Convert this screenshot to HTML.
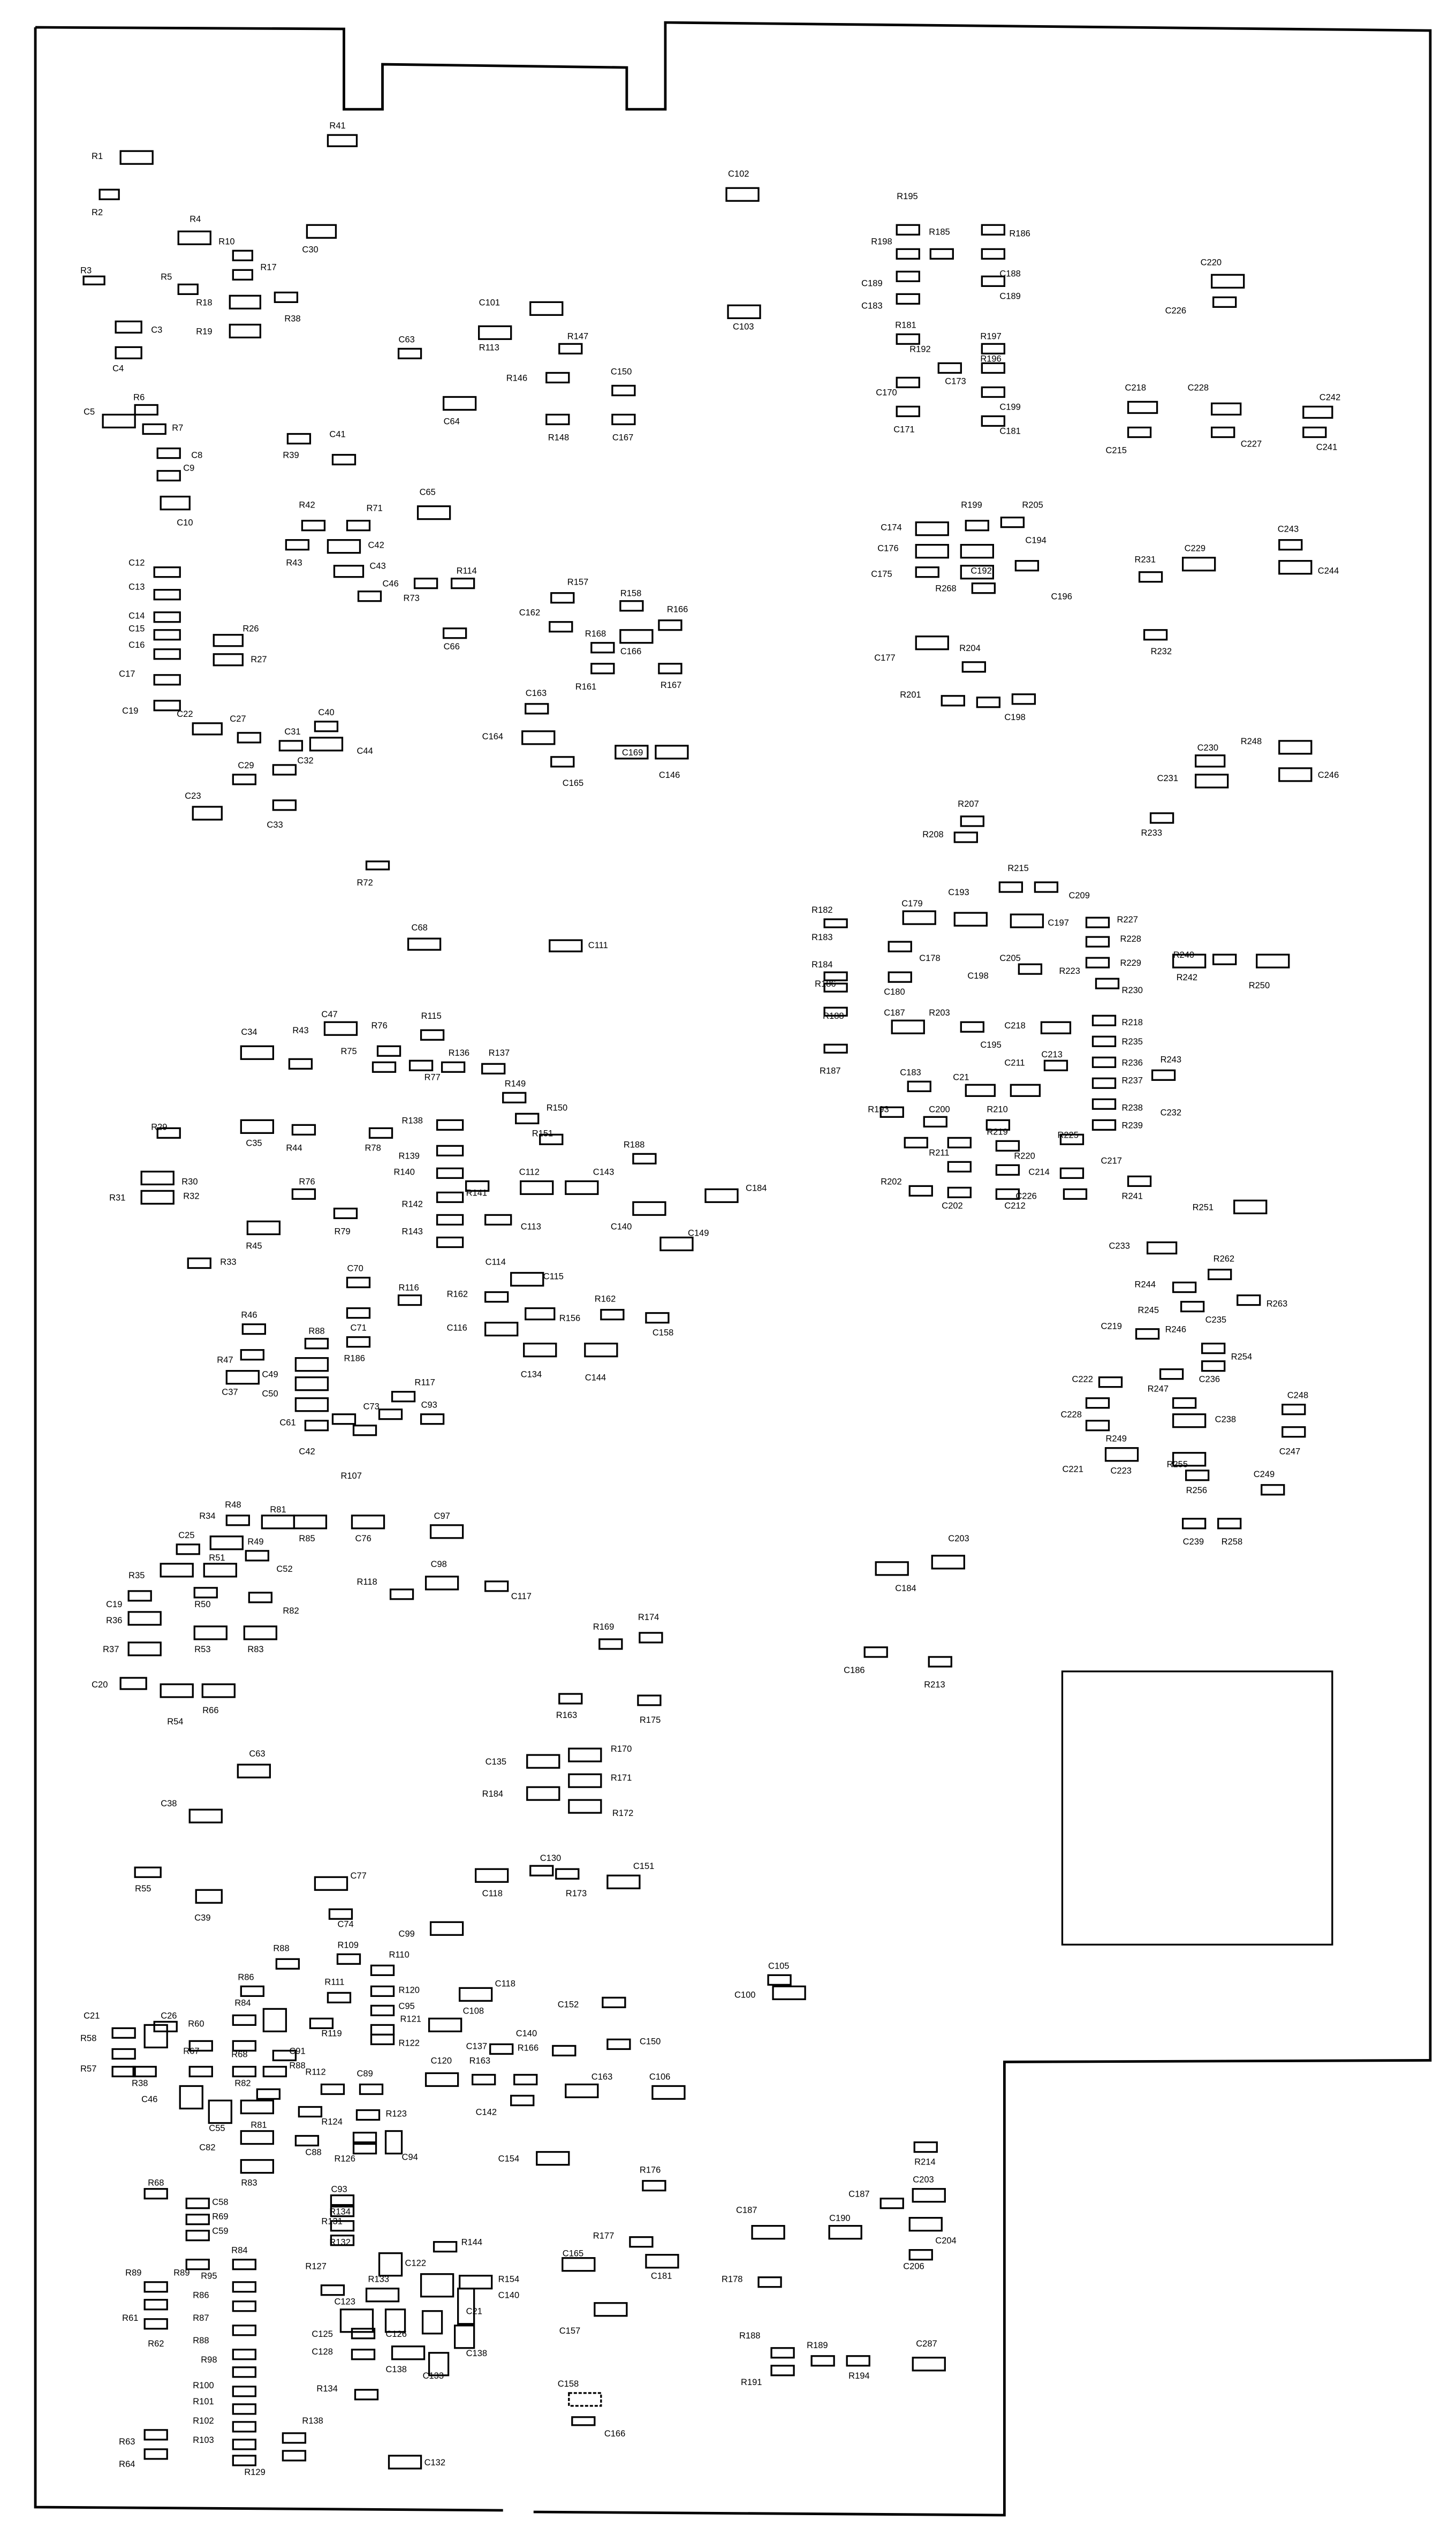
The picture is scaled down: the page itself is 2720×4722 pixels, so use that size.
<!DOCTYPE html>
<html><head><meta charset="utf-8"><style>
html,body{margin:0;padding:0;background:#fff}
svg{display:block}
rect{fill:none;stroke:#000;stroke-width:1.1}
text{font-family:"Liberation Sans",sans-serif;font-size:5.5px;fill:#000}
.o{fill:none;stroke:#000;stroke-width:1.6}
</style></head><body>
<svg width="2720" height="4722" viewBox="0 0 906 1573" preserveAspectRatio="none" xmlns="http://www.w3.org/2000/svg">
<path class="o" d="M22,17 L214,18 L214,68 L238,68 L238,40 L390,42 L390,68 L414,68 L414,14 L890,19 L890,1282 L625,1283 L625,1565 L332,1563 M313,1562 L22,1560 L22,17"/>
<rect x="661" y="1040" width="168" height="170"/>
<g>
<text x="57" y="99">R1</text><rect x="75" y="94" width="20" height="8"/>
<text x="205" y="80">R41</text><rect x="204" y="84" width="18" height="7"/>
<text x="57" y="134">R2</text><rect x="62" y="118" width="12" height="6"/>
<text x="118" y="138">R4</text><rect x="111" y="144" width="20" height="8"/>
<rect x="191" y="140" width="18" height="8"/><text x="188" y="157">C30</text>
<text x="136" y="152">R10</text><rect x="145" y="156" width="12" height="6"/>
<text x="50" y="170">R3</text><rect x="52" y="172" width="13" height="5"/>
<text x="100" y="174">R5</text><rect x="111" y="177" width="12" height="6"/>
<text x="162" y="168">R17</text><rect x="145" y="168" width="12" height="6"/>
<text x="122" y="190">R18</text><rect x="143" y="184" width="19" height="8"/><rect x="171" y="182" width="14" height="6"/><text x="177" y="200">R38</text>
<text x="122" y="208">R19</text><rect x="143" y="202" width="19" height="8"/>
<rect x="72" y="200" width="16" height="7"/><text x="94" y="207">C3</text>
<rect x="72" y="216" width="16" height="7"/><text x="70" y="231">C4</text>
<text x="52" y="258">C5</text><rect x="64" y="258" width="20" height="8"/>
<text x="83" y="249">R6</text><rect x="84" y="252" width="14" height="6"/>
<text x="107" y="268">R7</text><rect x="89" y="264" width="14" height="6"/>
<rect x="98" y="279" width="14" height="6"/><text x="119" y="285">C8</text>
<rect x="98" y="293" width="14" height="6"/><text x="114" y="293">C9</text>
<rect x="100" y="309" width="18" height="8"/><text x="110" y="327">C10</text>
<text x="298" y="190">C101</text><rect x="330" y="188" width="20" height="8"/>
<rect x="298" y="203" width="20" height="8"/><text x="298" y="218">R113</text>
<text x="353" y="211">R147</text><rect x="348" y="214" width="14" height="6"/>
<rect x="248" y="217" width="14" height="6"/><text x="248" y="213">C63</text>
<text x="315" y="237">R146</text><rect x="340" y="232" width="14" height="6"/>
<text x="380" y="233">C150</text><rect x="381" y="240" width="14" height="6"/>
<rect x="276" y="247" width="20" height="8"/><text x="276" y="264">C64</text>
<rect x="340" y="258" width="14" height="6"/><text x="341" y="274">R148</text>
<rect x="381" y="258" width="14" height="6"/><text x="381" y="274">C167</text>
<rect x="179" y="270" width="14" height="6"/><text x="205" y="272">C41</text><text x="176" y="285">R39</text>
<rect x="207" y="283" width="14" height="6"/>
<text x="453" y="110">C102</text><rect x="452" y="117" width="20" height="8"/>
<rect x="453" y="190" width="20" height="8"/><text x="456" y="205">C103</text>
<rect x="188" y="324" width="14" height="6"/><text x="186" y="316">R42</text><text x="228" y="318">R71</text>
<rect x="216" y="324" width="14" height="6"/><rect x="260" y="315" width="20" height="8"/><text x="261" y="308">C65</text>
<rect x="178" y="336" width="14" height="6"/><text x="178" y="352">R43</text>
<rect x="204" y="336" width="20" height="8"/><text x="229" y="341">C42</text>
<rect x="208" y="352" width="18" height="7"/><text x="230" y="354">C43</text>
<rect x="223" y="368" width="14" height="6"/><text x="238" y="365">C46</text><rect x="258" y="360" width="14" height="6"/><text x="251" y="374">R73</text>
<rect x="281" y="360" width="14" height="6"/><text x="284" y="357">R114</text>
<rect x="276" y="391" width="14" height="6"/><text x="276" y="404">C66</text>
<text x="80" y="352">C12</text><rect x="96" y="353" width="16" height="6"/>
<text x="80" y="367">C13</text><rect x="96" y="367" width="16" height="6"/>
<text x="80" y="385">C14</text><rect x="96" y="381" width="16" height="6"/>
<text x="80" y="393">C15</text><rect x="96" y="392" width="16" height="6"/>
<text x="80" y="403">C16</text><rect x="96" y="404" width="16" height="6"/>
<text x="74" y="421">C17</text><rect x="96" y="420" width="16" height="6"/>
<text x="76" y="444">C19</text><rect x="96" y="436" width="16" height="6"/>
<rect x="133" y="395" width="18" height="7"/><text x="151" y="393">R26</text>
<rect x="133" y="407" width="18" height="7"/><text x="156" y="412">R27</text>
<text x="110" y="446">C22</text><rect x="120" y="450" width="18" height="7"/>
<text x="143" y="449">C27</text><rect x="148" y="456" width="14" height="6"/>
<text x="177" y="457">C31</text><rect x="174" y="461" width="14" height="6"/><text x="198" y="445">C40</text><rect x="196" y="449" width="14" height="6"/>
<rect x="193" y="459" width="20" height="8"/><text x="222" y="469">C44</text>
<text x="148" y="478">C29</text><rect x="145" y="482" width="14" height="6"/><text x="185" y="475">C32</text><rect x="170" y="476" width="14" height="6"/>
<text x="115" y="497">C23</text><rect x="120" y="502" width="18" height="8"/>
<rect x="170" y="498" width="14" height="6"/><text x="166" y="515">C33</text>
<text x="353" y="364">R157</text><rect x="343" y="369" width="14" height="6"/><text x="386" y="371">R158</text><rect x="386" y="374" width="14" height="6"/>
<text x="415" y="381">R166</text><rect x="410" y="386" width="14" height="6"/>
<text x="323" y="383">C162</text><rect x="342" y="387" width="14" height="6"/>
<text x="364" y="396">R168</text><rect x="386" y="392" width="20" height="8"/><rect x="368" y="400" width="14" height="6"/><text x="386" y="407">C166</text>
<rect x="368" y="413" width="14" height="6"/><text x="358" y="429">R161</text>
<rect x="410" y="413" width="14" height="6"/><text x="411" y="428">R167</text>
<text x="327" y="433">C163</text><rect x="327" y="438" width="14" height="6"/>
<text x="300" y="460">C164</text><rect x="325" y="455" width="20" height="8"/>
<rect x="343" y="471" width="14" height="6"/><text x="350" y="489">C165</text>
<rect x="383" y="464" width="20" height="8"/><rect x="408" y="464" width="20" height="8"/><text x="387" y="470">C169</text><text x="410" y="484">C146</text>
<rect x="228" y="536" width="14" height="5"/><text x="222" y="551">R72</text>
<rect x="254" y="584" width="20" height="7"/><text x="256" y="579">C68</text>
<rect x="342" y="585" width="20" height="7"/><text x="366" y="590">C111</text>
<text x="558" y="124">R195</text>
<rect x="558" y="140" width="14" height="6"/><text x="542" y="152">R198</text><text x="578" y="146">R185</text>
<rect x="611" y="140" width="14" height="6"/><text x="628" y="147">R186</text>
<rect x="558" y="155" width="14" height="6"/><rect x="579" y="155" width="14" height="6"/><rect x="611" y="155" width="14" height="6"/>
<text x="536" y="178">C189</text><rect x="558" y="169" width="14" height="6"/><text x="622" y="172">C188</text>
<rect x="558" y="183" width="14" height="6"/><text x="536" y="192">C183</text><rect x="611" y="172" width="14" height="6"/><text x="622" y="186">C189</text>
<text x="557" y="204">R181</text><rect x="558" y="208" width="14" height="6"/><text x="610" y="211">R197</text><rect x="611" y="214" width="14" height="6"/>
<text x="566" y="219">R192</text><rect x="584" y="226" width="14" height="6"/><text x="610" y="225">R196</text><rect x="611" y="226" width="14" height="6"/>
<rect x="558" y="235" width="14" height="6"/><text x="545" y="246">C170</text><text x="588" y="239">C173</text>
<rect x="611" y="241" width="14" height="6"/><text x="622" y="255">C199</text>
<rect x="558" y="253" width="14" height="6"/><text x="556" y="269">C171</text><rect x="611" y="259" width="14" height="6"/><text x="622" y="270">C181</text>
<text x="747" y="165">C220</text><rect x="754" y="171" width="20" height="8"/><rect x="755" y="185" width="14" height="6"/><text x="725" y="195">C226</text>
<text x="700" y="243">C218</text><rect x="702" y="250" width="18" height="7"/><text x="739" y="243">C228</text><rect x="754" y="251" width="18" height="7"/>
<rect x="702" y="266" width="14" height="6"/><text x="688" y="282">C215</text><rect x="754" y="266" width="14" height="6"/><text x="772" y="278">C227</text>
<text x="821" y="249">C242</text><rect x="811" y="253" width="18" height="7"/><rect x="811" y="266" width="14" height="6"/><text x="819" y="280">C241</text>
<text x="548" y="330">C174</text><rect x="570" y="325" width="20" height="8"/><text x="598" y="316">R199</text><rect x="601" y="324" width="14" height="6"/><text x="636" y="316">R205</text><rect x="623" y="322" width="14" height="6"/>
<text x="546" y="343">C176</text><rect x="570" y="339" width="20" height="8"/><rect x="598" y="339" width="20" height="8"/><text x="638" y="338">C194</text>
<text x="542" y="359">C175</text><rect x="570" y="353" width="14" height="6"/><rect x="598" y="352" width="20" height="8"/><text x="604" y="357">C192</text><rect x="632" y="349" width="14" height="6"/>
<text x="582" y="368">R268</text><rect x="605" y="363" width="14" height="6"/><text x="654" y="373">C196</text>
<text x="706" y="350">R231</text><rect x="709" y="356" width="14" height="6"/><text x="737" y="343">C229</text><rect x="736" y="347" width="20" height="8"/>
<text x="795" y="331">C243</text><rect x="796" y="336" width="14" height="6"/><rect x="796" y="349" width="20" height="8"/><text x="820" y="357">C244</text>
<rect x="712" y="392" width="14" height="6"/><text x="716" y="407">R232</text>
<rect x="570" y="396" width="20" height="8"/><text x="544" y="411">C177</text><text x="597" y="405">R204</text><rect x="599" y="412" width="14" height="6"/>
<text x="560" y="434">R201</text><rect x="586" y="433" width="14" height="6"/><rect x="608" y="434" width="14" height="6"/><rect x="630" y="432" width="14" height="6"/><text x="625" y="448">C198</text>
<text x="745" y="467">C230</text><rect x="744" y="470" width="18" height="7"/><text x="772" y="463">R248</text><rect x="796" y="461" width="20" height="8"/>
<rect x="744" y="482" width="20" height="8"/><text x="720" y="486">C231</text><rect x="796" y="478" width="20" height="8"/><text x="820" y="484">C246</text>
<rect x="716" y="506" width="14" height="6"/><text x="710" y="520">R233</text>
<text x="596" y="502">R207</text><rect x="598" y="508" width="14" height="6"/><text x="574" y="521">R208</text><rect x="594" y="518" width="14" height="6"/>
<text x="627" y="542">R215</text><rect x="622" y="549" width="14" height="6"/><rect x="644" y="549" width="14" height="6"/><text x="665" y="559">C209</text>
<text x="590" y="557">C193</text><text x="561" y="564">C179</text><rect x="562" y="567" width="20" height="8"/><rect x="594" y="568" width="20" height="8"/>
<rect x="629" y="569" width="20" height="8"/><text x="652" y="576">C197</text><rect x="676" y="571" width="14" height="6"/><text x="695" y="574">R227</text>
<text x="505" y="568">R182</text><rect x="513" y="572" width="14" height="5"/><text x="505" y="585">R183</text>
<rect x="553" y="586" width="14" height="6"/><text x="572" y="598">C178</text><rect x="676" y="583" width="14" height="6"/><text x="697" y="586">R228</text>
<text x="505" y="602">R184</text><rect x="513" y="605" width="14" height="5"/><text x="622" y="598">C205</text><rect x="634" y="600" width="14" height="6"/><text x="659" y="606">R223</text><rect x="676" y="596" width="14" height="6"/><text x="697" y="601">R229</text>
<text x="507" y="614">R186</text><rect x="513" y="612" width="14" height="5"/><rect x="553" y="605" width="14" height="6"/><text x="550" y="619">C180</text><text x="602" y="609">C198</text><rect x="682" y="609" width="14" height="6"/><text x="698" y="618">R230</text>
<text x="730" y="596">R240</text><rect x="730" y="594" width="20" height="8"/><rect x="755" y="594" width="14" height="6"/><text x="732" y="610">R242</text><rect x="782" y="594" width="20" height="8"/><text x="777" y="615">R250</text>
<text x="512" y="634">R188</text><rect x="513" y="627" width="14" height="5"/><text x="550" y="632">C187</text><rect x="555" y="635" width="20" height="8"/><text x="578" y="632">R203</text><rect x="598" y="636" width="14" height="6"/>
<rect x="648" y="636" width="18" height="7"/><text x="625" y="640">C218</text><rect x="680" y="632" width="14" height="6"/><text x="698" y="638">R218</text>
<text x="610" y="652">C195</text><rect x="680" y="645" width="14" height="6"/><text x="698" y="650">R235</text>
<rect x="513" y="650" width="14" height="5"/><text x="510" y="668">R187</text><text x="648" y="658">C213</text><rect x="650" y="660" width="14" height="6"/>
<text x="625" y="663">C211</text><rect x="680" y="658" width="14" height="6"/><text x="698" y="663">R236</text><text x="722" y="661">R243</text>
<text x="560" y="669">C183</text><rect x="565" y="673" width="14" height="6"/><text x="593" y="672">C21</text><rect x="601" y="675" width="18" height="7"/><rect x="629" y="675" width="18" height="7"/>
<rect x="680" y="671" width="14" height="6"/><text x="698" y="674">R237</text><rect x="717" y="666" width="14" height="6"/>
<text x="540" y="692">R193</text><rect x="548" y="689" width="14" height="6"/><text x="578" y="692">C200</text><rect x="575" y="695" width="14" height="6"/>
<text x="614" y="692">R210</text><rect x="614" y="697" width="14" height="6"/><rect x="680" y="684" width="14" height="6"/><text x="698" y="691">R238</text><text x="722" y="694">C232</text>
<text x="578" y="719">R211</text><rect x="563" y="708" width="14" height="6"/><text x="614" y="706">R219</text><text x="631" y="721">R220</text>
<rect x="590" y="708" width="14" height="6"/><rect x="620" y="710" width="14" height="6"/><rect x="660" y="706" width="14" height="6"/><text x="658" y="708">R225</text><rect x="680" y="697" width="14" height="6"/><text x="698" y="702">R239</text>
<text x="685" y="724">C217</text><rect x="590" y="723" width="14" height="6"/><rect x="620" y="725" width="14" height="6"/><text x="640" y="731">C214</text><rect x="660" y="727" width="14" height="6"/>
<text x="548" y="737">R202</text><rect x="566" y="738" width="14" height="6"/><rect x="590" y="739" width="14" height="6"/><rect x="620" y="740" width="14" height="6"/><text x="632" y="746">C226</text><rect x="662" y="740" width="14" height="6"/><rect x="702" y="732" width="14" height="6"/><text x="698" y="746">R241</text>
<text x="586" y="752">C202</text><text x="625" y="752">C212</text>
<text x="742" y="753">R251</text><rect x="768" y="747" width="20" height="8"/>
<text x="690" y="777">C233</text><rect x="714" y="773" width="18" height="7"/><text x="755" y="785">R262</text><rect x="752" y="790" width="14" height="6"/>
<text x="706" y="801">R244</text><rect x="730" y="798" width="14" height="6"/><text x="708" y="817">R245</text><rect x="735" y="810" width="14" height="6"/><text x="750" y="823">C235</text><rect x="770" y="806" width="14" height="6"/><text x="788" y="813">R263</text>
<text x="685" y="827">C219</text><rect x="707" y="827" width="14" height="6"/><text x="725" y="829">R246</text><rect x="748" y="836" width="14" height="6"/><text x="746" y="860">C236</text>
<rect x="748" y="847" width="14" height="6"/><text x="766" y="846">R254</text>
<text x="667" y="860">C222</text><rect x="684" y="857" width="14" height="6"/><text x="714" y="866">R247</text><rect x="722" y="852" width="14" height="6"/>
<rect x="676" y="870" width="14" height="6"/><text x="660" y="882">C228</text><rect x="730" y="870" width="14" height="6"/><rect x="730" y="880" width="20" height="8"/><text x="756" y="885">C238</text>
<text x="801" y="870">C248</text><rect x="798" y="874" width="14" height="6"/><rect x="798" y="888" width="14" height="6"/><text x="796" y="905">C247</text>
<rect x="676" y="884" width="14" height="6"/><text x="688" y="897">R249</text><rect x="688" y="901" width="20" height="8"/><text x="661" y="916">C221</text><text x="691" y="917">C223</text>
<rect x="730" y="904" width="20" height="8"/><text x="726" y="913">R255</text><rect x="738" y="915" width="14" height="6"/><text x="780" y="919">C249</text><rect x="785" y="924" width="14" height="6"/>
<text x="738" y="929">R256</text><rect x="736" y="945" width="14" height="6"/><rect x="758" y="945" width="14" height="6"/><text x="736" y="961">C239</text><text x="760" y="961">R258</text>
<text x="590" y="959">C203</text><rect x="580" y="968" width="20" height="8"/><rect x="545" y="972" width="20" height="8"/><text x="557" y="990">C184</text>
<rect x="538" y="1025" width="14" height="6"/><text x="525" y="1041">C186</text><rect x="578" y="1031" width="14" height="6"/><text x="575" y="1050">R213</text>
<text x="150" y="644">C34</text><rect x="150" y="651" width="20" height="8"/><text x="182" y="643">R43</text><rect x="180" y="659" width="14" height="6"/>
<text x="200" y="633">C47</text><rect x="202" y="636" width="20" height="8"/><text x="231" y="640">R76</text><text x="262" y="634">R115</text><rect x="262" y="641" width="14" height="6"/>
<text x="212" y="656">R75</text><rect x="235" y="651" width="14" height="6"/><text x="279" y="657">R136</text><text x="304" y="657">R137</text>
<rect x="232" y="661" width="14" height="6"/><rect x="255" y="660" width="14" height="6"/><rect x="275" y="661" width="14" height="6"/><rect x="300" y="662" width="14" height="6"/><text x="264" y="672">R77</text>
<text x="314" y="676">R149</text><rect x="313" y="680" width="14" height="6"/><text x="340" y="691">R150</text>
<text x="94" y="703">R29</text><rect x="98" y="702" width="14" height="6"/><rect x="150" y="697" width="20" height="8"/><text x="153" y="713">C35</text><rect x="182" y="700" width="14" height="6"/><text x="178" y="716">R44</text>
<text x="250" y="699">R138</text><rect x="272" y="697" width="16" height="6"/><rect x="230" y="702" width="14" height="6"/><text x="227" y="716">R78</text><rect x="321" y="693" width="14" height="6"/>
<rect x="336" y="706" width="14" height="6"/><text x="331" y="707">R151</text><text x="388" y="714">R188</text><rect x="394" y="718" width="14" height="6"/>
<rect x="272" y="713" width="16" height="6"/><text x="248" y="721">R139</text><rect x="88" y="729" width="20" height="8"/><text x="113" y="737">R30</text>
<text x="245" y="731">R140</text><rect x="272" y="727" width="16" height="6"/><rect x="324" y="735" width="20" height="8"/><text x="323" y="731">C112</text><rect x="352" y="735" width="20" height="8"/><text x="369" y="731">C143</text>
<text x="186" y="737">R76</text><rect x="182" y="740" width="14" height="6"/><text x="290" y="744">R141</text><rect x="290" y="735" width="14" height="6"/>
<text x="68" y="747">R31</text><rect x="88" y="741" width="20" height="8"/><text x="114" y="746">R32</text><text x="250" y="751">R142</text><rect x="272" y="742" width="16" height="6"/>
<rect x="394" y="748" width="20" height="8"/><text x="380" y="765">C140</text><rect x="439" y="740" width="20" height="8"/><text x="464" y="741">C184</text>
<rect x="208" y="752" width="14" height="6"/><text x="208" y="768">R79</text><rect x="272" y="756" width="16" height="6"/><text x="250" y="768">R143</text><rect x="302" y="756" width="16" height="6"/><text x="324" y="765">C113</text>
<rect x="154" y="760" width="20" height="8"/><text x="153" y="777">R45</text><rect x="411" y="770" width="20" height="8"/><text x="428" y="769">C149</text>
<rect x="117" y="783" width="14" height="6"/><text x="137" y="787">R33</text><rect x="272" y="770" width="16" height="6"/><text x="302" y="787">C114</text>
<rect x="318" y="792" width="20" height="8"/><text x="338" y="796">C115</text><text x="216" y="791">C70</text><rect x="216" y="795" width="14" height="6"/>
<text x="248" y="803">R116</text><rect x="248" y="806" width="14" height="6"/><text x="278" y="807">R162</text><rect x="302" y="804" width="14" height="6"/>
<text x="150" y="820">R46</text><rect x="151" y="824" width="14" height="6"/><rect x="216" y="814" width="14" height="6"/><text x="192" y="830">R88</text><rect x="190" y="833" width="14" height="6"/>
<rect x="327" y="814" width="18" height="7"/><text x="348" y="822">R156</text><rect x="374" y="815" width="14" height="6"/><text x="370" y="810">R162</text><rect x="402" y="817" width="14" height="6"/><text x="406" y="831">C158</text>
<text x="278" y="828">C116</text><rect x="302" y="823" width="20" height="8"/><text x="218" y="828">C71</text><rect x="216" y="832" width="14" height="6"/><text x="214" y="847">R186</text>
<text x="135" y="848">R47</text><rect x="150" y="840" width="14" height="6"/><rect x="326" y="836" width="20" height="8"/><rect x="364" y="836" width="20" height="8"/><text x="324" y="857">C134</text><text x="364" y="859">C144</text>
<rect x="184" y="845" width="20" height="8"/><text x="163" y="857">C49</text><rect x="141" y="853" width="20" height="8"/><text x="138" y="868">C37</text>
<rect x="184" y="857" width="20" height="8"/><text x="163" y="869">C50</text><text x="258" y="862">R117</text><rect x="244" y="866" width="14" height="6"/>
<rect x="184" y="870" width="20" height="8"/><text x="226" y="877">C73</text><rect x="236" y="877" width="14" height="6"/><text x="262" y="876">C93</text><rect x="262" y="880" width="14" height="6"/>
<text x="174" y="887">C61</text><rect x="190" y="884" width="14" height="6"/><rect x="207" y="880" width="14" height="6"/><rect x="220" y="887" width="14" height="6"/>
<text x="186" y="905">C42</text><text x="212" y="920">R107</text>
<text x="140" y="938">R48</text><text x="168" y="941">R81</text><text x="124" y="945">R34</text>
<rect x="141" y="943" width="14" height="6"/><rect x="163" y="943" width="20" height="8"/><rect x="183" y="943" width="20" height="8"/><text x="186" y="959">R85</text><rect x="219" y="943" width="20" height="8"/><text x="221" y="959">C76</text>
<text x="270" y="945">C97</text><rect x="268" y="949" width="20" height="8"/><text x="111" y="957">C25</text><rect x="110" y="961" width="14" height="6"/><rect x="131" y="956" width="20" height="8"/><text x="154" y="961">R49</text>
<rect x="153" y="965" width="14" height="6"/><text x="130" y="971">R51</text><text x="172" y="978">C52</text>
<text x="80" y="982">R35</text><rect x="100" y="973" width="20" height="8"/><rect x="127" y="973" width="20" height="8"/><text x="268" y="975">C98</text><rect x="265" y="981" width="20" height="8"/><text x="222" y="986">R118</text><rect x="243" y="989" width="14" height="6"/>
<rect x="80" y="990" width="14" height="6"/><rect x="121" y="988" width="14" height="6"/><rect x="155" y="991" width="14" height="6"/><rect x="302" y="984" width="14" height="6"/><text x="318" y="995">C117</text>
<text x="66" y="1000">C19</text><text x="121" y="1000">R50</text><text x="176" y="1004">R82</text>
<text x="66" y="1010">R36</text><rect x="80" y="1003" width="20" height="8"/><rect x="121" y="1012" width="20" height="8"/><rect x="152" y="1012" width="20" height="8"/><text x="369" y="1014">R169</text><rect x="373" y="1020" width="14" height="6"/><text x="397" y="1008">R174</text><rect x="398" y="1016" width="14" height="6"/>
<text x="64" y="1028">R37</text><rect x="80" y="1022" width="20" height="8"/><text x="121" y="1028">R53</text><text x="154" y="1028">R83</text>
<text x="57" y="1050">C20</text><rect x="75" y="1044" width="16" height="7"/><rect x="100" y="1048" width="20" height="8"/><rect x="126" y="1048" width="20" height="8"/><text x="104" y="1073">R54</text><text x="126" y="1066">R66</text>
<rect x="348" y="1054" width="14" height="6"/><text x="346" y="1069">R163</text><rect x="397" y="1055" width="14" height="6"/><text x="398" y="1072">R175</text>
<text x="155" y="1093">C63</text><rect x="148" y="1098" width="20" height="8"/><text x="302" y="1098">C135</text><rect x="328" y="1092" width="20" height="8"/><text x="380" y="1090">R170</text><rect x="354" y="1088" width="20" height="8"/>
<rect x="354" y="1104" width="20" height="8"/><text x="380" y="1108">R171</text><text x="100" y="1124">C38</text><rect x="118" y="1126" width="20" height="8"/>
<text x="300" y="1118">R184</text><rect x="328" y="1112" width="20" height="8"/><rect x="354" y="1120" width="20" height="8"/><text x="381" y="1130">R172</text>
<text x="336" y="1158">C130</text><rect x="330" y="1161" width="14" height="6"/><rect x="346" y="1163" width="14" height="6"/><rect x="378" y="1167" width="20" height="8"/><text x="394" y="1163">C151</text>
<rect x="84" y="1162" width="16" height="6"/><text x="84" y="1177">R55</text><text x="218" y="1169">C77</text><rect x="196" y="1168" width="20" height="8"/><rect x="296" y="1163" width="20" height="8"/><text x="300" y="1180">C118</text><text x="352" y="1180">R173</text>
<rect x="122" y="1176" width="16" height="8"/><text x="121" y="1195">C39</text><rect x="205" y="1188" width="14" height="6"/><text x="210" y="1199">C74</text><rect x="268" y="1196" width="20" height="8"/><text x="248" y="1205">C99</text>
<text x="210" y="1212">R109</text><rect x="210" y="1216" width="14" height="6"/><text x="170" y="1214">R88</text><rect x="172" y="1219" width="14" height="6"/><text x="242" y="1218">R110</text>
<text x="148" y="1232">R86</text><rect x="150" y="1236" width="14" height="6"/><text x="202" y="1235">R111</text><rect x="204" y="1240" width="14" height="6"/><rect x="231" y="1223" width="14" height="6"/><rect x="231" y="1236" width="14" height="6"/><text x="248" y="1240">R120</text>
<rect x="286" y="1237" width="20" height="8"/><text x="308" y="1236">C118</text><rect x="478" y="1229" width="14" height="6"/><text x="478" y="1225">C105</text><rect x="481" y="1236" width="20" height="8"/><text x="457" y="1243">C100</text>
<text x="146" y="1248">R84</text><rect x="231" y="1248" width="14" height="6"/><text x="248" y="1250">C95</text><text x="347" y="1249">C152</text><rect x="375" y="1243" width="14" height="6"/>
<text x="52" y="1256">C21</text><text x="100" y="1256">C26</text><rect x="96" y="1258" width="14" height="6"/><text x="117" y="1261">R60</text><rect x="145" y="1254" width="14" height="6"/><rect x="164" y="1250" width="14" height="14"/><rect x="193" y="1256" width="14" height="6"/><rect x="231" y="1260" width="14" height="6"/><text x="249" y="1258">R121</text>
<rect x="267" y="1256" width="20" height="8"/><text x="288" y="1253">C108</text><text x="321" y="1267">C140</text><rect x="70" y="1262" width="14" height="6"/><rect x="90" y="1260" width="14" height="14"/>
<text x="50" y="1270">R58</text><rect x="118" y="1270" width="14" height="6"/><rect x="145" y="1270" width="14" height="6"/><text x="200" y="1267">R119</text><rect x="231" y="1266" width="14" height="6"/><text x="248" y="1273">R122</text>
<rect x="70" y="1275" width="14" height="6"/><text x="114" y="1278">R67</text><text x="144" y="1280">R68</text><rect x="170" y="1276" width="14" height="6"/><text x="180" y="1278">C91</text>
<text x="290" y="1275">C137</text><rect x="305" y="1272" width="14" height="6"/><text x="322" y="1276">R166</text><rect x="344" y="1273" width="14" height="6"/><rect x="378" y="1269" width="14" height="6"/><text x="398" y="1272">C150</text>
<text x="50" y="1289">R57</text><rect x="70" y="1286" width="14" height="6"/><rect x="83" y="1286" width="14" height="6"/><rect x="118" y="1286" width="14" height="6"/><rect x="145" y="1286" width="14" height="6"/><rect x="164" y="1286" width="14" height="6"/><text x="180" y="1287">R88</text>
<text x="268" y="1284">C120</text><text x="292" y="1284">R163</text><rect x="265" y="1290" width="20" height="8"/><rect x="294" y="1291" width="14" height="6"/><rect x="320" y="1291" width="14" height="6"/>
<text x="190" y="1291">R112</text><text x="222" y="1292">C89</text><text x="82" y="1298">R38</text><text x="146" y="1298">R82</text>
<rect x="200" y="1297" width="14" height="6"/><rect x="224" y="1297" width="14" height="6"/><rect x="160" y="1300" width="14" height="6"/><text x="368" y="1294">C163</text><rect x="352" y="1297" width="20" height="8"/><text x="404" y="1294">C106</text><rect x="406" y="1298" width="20" height="8"/>
<text x="88" y="1308">C46</text><rect x="112" y="1298" width="14" height="14"/><rect x="130" y="1307" width="14" height="14"/><rect x="150" y="1307" width="20" height="8"/><rect x="186" y="1311" width="14" height="6"/><rect x="222" y="1313" width="14" height="6"/><text x="240" y="1317">R123</text><rect x="318" y="1304" width="14" height="6"/><text x="296" y="1316">C142</text>
<text x="130" y="1326">C55</text><text x="156" y="1324">R81</text><text x="200" y="1322">R124</text>
<rect x="150" y="1326" width="20" height="8"/><rect x="220" y="1327" width="14" height="6"/><rect x="240" y="1326" width="10" height="14"/><rect x="184" y="1329" width="14" height="6"/>
<text x="124" y="1338">C82</text><text x="190" y="1341">C88</text><text x="208" y="1345">R126</text><rect x="220" y="1334" width="14" height="6"/><text x="250" y="1344">C94</text>
<text x="310" y="1345">C154</text><rect x="334" y="1339" width="20" height="8"/><rect x="150" y="1344" width="20" height="8"/><text x="150" y="1360">R83</text>
<rect x="569" y="1333" width="14" height="6"/><text x="569" y="1347">R214</text><text x="398" y="1352">R176</text><rect x="400" y="1357" width="14" height="6"/>
<text x="92" y="1360">R68</text><rect x="90" y="1362" width="14" height="6"/><rect x="116" y="1368" width="14" height="6"/><text x="132" y="1372">C58</text><text x="206" y="1364">C93</text><rect x="206" y="1366" width="14" height="6"/>
<text x="568" y="1358">C203</text><rect x="568" y="1362" width="20" height="8"/><text x="528" y="1367">C187</text><rect x="548" y="1368" width="14" height="6"/>
<text x="205" y="1378">R134</text><rect x="206" y="1373" width="14" height="6"/><rect x="116" y="1378" width="14" height="6"/><text x="132" y="1381">R69</text>
<text x="200" y="1384">R131</text><rect x="206" y="1382" width="14" height="6"/><text x="132" y="1390">C59</text><rect x="116" y="1388" width="14" height="6"/>
<text x="458" y="1377">C187</text><rect x="468" y="1385" width="20" height="8"/><text x="516" y="1382">C190</text><rect x="516" y="1385" width="20" height="8"/><rect x="566" y="1380" width="20" height="8"/><text x="582" y="1396">C204</text>
<text x="205" y="1397">R132</text><rect x="206" y="1391" width="14" height="6"/><text x="287" y="1397">R144</text><rect x="270" y="1395" width="14" height="6"/><text x="369" y="1393">R177</text><rect x="392" y="1392" width="14" height="6"/>
<text x="144" y="1402">R84</text><rect x="145" y="1406" width="14" height="6"/><rect x="116" y="1406" width="14" height="6"/><text x="562" y="1412">C206</text><rect x="566" y="1400" width="14" height="6"/>
<text x="252" y="1410">C122</text><rect x="236" y="1402" width="14" height="14"/><text x="350" y="1404">C165</text><rect x="350" y="1405" width="20" height="8"/><rect x="402" y="1403" width="20" height="8"/><text x="405" y="1418">C181</text>
<text x="190" y="1412">R127</text><text x="78" y="1416">R89</text><text x="108" y="1416">R89</text><text x="125" y="1418">R95</text><text x="229" y="1420">R133</text>
<text x="310" y="1420">R154</text><rect x="286" y="1416" width="20" height="8"/><rect x="262" y="1415" width="20" height="14"/><rect x="285" y="1424" width="10" height="22"/><text x="310" y="1430">C140</text>
<rect x="90" y="1420" width="14" height="6"/><rect x="145" y="1420" width="14" height="6"/><rect x="200" y="1422" width="14" height="6"/><rect x="228" y="1424" width="20" height="8"/><text x="120" y="1430">R86</text>
<text x="449" y="1420">R178</text><rect x="472" y="1417" width="14" height="6"/><text x="208" y="1434">C123</text><text x="290" y="1440">C21</text>
<text x="120" y="1444">R87</text><rect x="145" y="1432" width="14" height="6"/><rect x="90" y="1431" width="14" height="6"/><rect x="370" y="1433" width="20" height="8"/><rect x="212" y="1437" width="20" height="14"/><rect x="240" y="1437" width="12" height="14"/><rect x="263" y="1438" width="12" height="14"/>
<text x="76" y="1444">R61</text><rect x="90" y="1443" width="14" height="6"/><text x="92" y="1460">R62</text><rect x="145" y="1447" width="14" height="6"/><text x="120" y="1458">R88</text>
<text x="348" y="1452">C157</text><text x="194" y="1454">C125</text><rect x="219" y="1449" width="14" height="6"/><text x="240" y="1454">C126</text><rect x="283" y="1447" width="12" height="14"/><text x="290" y="1466">C138</text>
<text x="460" y="1455">R188</text><rect x="480" y="1461" width="14" height="6"/><text x="502" y="1461">R189</text><rect x="505" y="1466" width="14" height="6"/><rect x="527" y="1466" width="14" height="6"/><text x="528" y="1480">R194</text>
<text x="570" y="1460">C287</text><rect x="568" y="1467" width="20" height="8"/><rect x="480" y="1472" width="14" height="6"/><text x="461" y="1484">R191</text>
<text x="194" y="1465">C128</text><rect x="219" y="1462" width="14" height="6"/><rect x="244" y="1460" width="20" height="8"/><rect x="267" y="1464" width="12" height="14"/><text x="240" y="1476">C138</text><text x="263" y="1480">C133</text>
<rect x="145" y="1462" width="14" height="6"/><text x="125" y="1470">R98</text><rect x="145" y="1473" width="14" height="6"/><text x="120" y="1486">R100</text><rect x="145" y="1485" width="14" height="6"/>
<text x="197" y="1488">R134</text><rect x="221" y="1487" width="14" height="6"/><text x="347" y="1485">C158</text><rect x="354" y="1489" width="20" height="8" stroke-dasharray="2,1"/>
<text x="120" y="1496">R101</text><rect x="145" y="1496" width="14" height="6"/><rect x="356" y="1504" width="14" height="5"/><text x="376" y="1516">C166</text>
<text x="120" y="1508">R102</text><rect x="145" y="1507" width="14" height="6"/><text x="188" y="1508">R138</text><rect x="176" y="1514" width="14" height="6"/>
<text x="74" y="1521">R63</text><rect x="90" y="1512" width="14" height="6"/><text x="120" y="1520">R103</text><rect x="145" y="1518" width="14" height="6"/>
<rect x="90" y="1524" width="14" height="6"/><text x="74" y="1535">R64</text><rect x="145" y="1528" width="14" height="6"/><rect x="176" y="1525" width="14" height="6"/><text x="152" y="1540">R129</text>
<rect x="242" y="1528" width="20" height="8"/><text x="264" y="1534">C132</text>
</g>
</svg>
</body></html>
